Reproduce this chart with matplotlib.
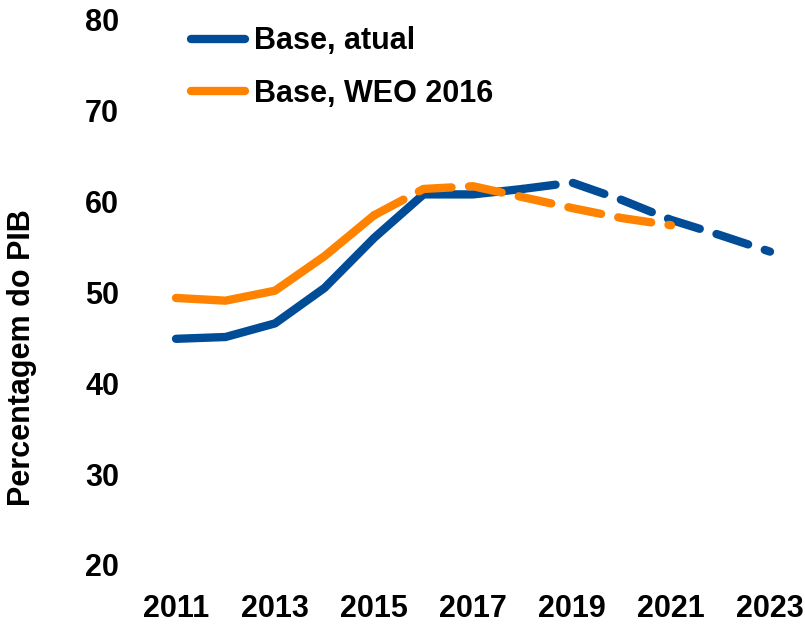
import matplotlib
matplotlib.use("Agg")
import matplotlib.pyplot as plt
from matplotlib.lines import Line2D

years = list(range(2011, 2024))
base_atual = [44.9, 45.1, 46.6, 50.5, 56.0, 60.8, 60.8, 61.4, 62.1, 60.2, 58.0, 56.3, 54.5]
weo_years = list(range(2011, 2022))
base_weo2016 = [49.4, 49.1, 50.2, 54.0, 58.5, 61.4, 61.7, 60.5, 59.3, 58.2, 57.4]
atual_solid_end = 2018
weo_solid_end = 2015
xticks = [2011, 2013, 2015, 2017, 2019, 2021, 2023]
yticks = [20, 30, 40, 50, 60, 70, 80]
legend_labels = ["Base, atual", "Base, WEO 2016"]
ylabel = "Percentagem do PIB"

BLUE = "#004C97"
ORANGE = "#FF8200"
FONT = ["Liberation Sans", "DejaVu Sans"]
plt.rcParams['font.family'] = FONT
plt.rcParams['font.weight'] = 'bold'
FS = 22

fig = plt.figure(figsize=(8.05, 6.26), dpi=100)
ax = fig.add_axes([176/805, 1-565/626, (770-176)/805, (565-20)/626])

lw = 6
dash = (4.0, 2.1)

def split(xs, ys, end):
    i = xs.index(end)
    return xs[:i+1], ys[:i+1], xs[i:], ys[i:]

for xs, ys, end, c in [(years, base_atual, atual_solid_end, BLUE),
                       (weo_years, base_weo2016, weo_solid_end, ORANGE)]:
    sx, sy, dx, dy = split(xs, ys, end)
    ax.plot(sx, sy, color=c, lw=lw, solid_capstyle='round', solid_joinstyle='round', clip_on=False)
    ax.plot(dx, dy, color=c, lw=lw, linestyle=(0, dash), dash_capstyle='round',
            dash_joinstyle='round', clip_on=False)

ax.set_xlim(2011, 2023)
ax.set_ylim(20, 80)
ax.set_xticks(xticks)
ax.set_xticklabels([str(t) for t in xticks])
ax.set_yticks(yticks)
for s in ax.spines.values():
    s.set_visible(False)
ax.tick_params(axis='both', length=0, labelsize=FS)
ax.tick_params(axis='x', pad=21)
ax.tick_params(axis='y', pad=41)
for lab in ax.get_xticklabels() + ax.get_yticklabels():
    lab.set_fontweight('bold')

fig.text(22/805, 1-358/626, ylabel, rotation=90, ha='center', va='center',
         fontsize=FS, fontweight='bold')

handles = [Line2D([0], [0], color=BLUE, lw=lw, solid_capstyle='round'),
           Line2D([0], [0], color=ORANGE, lw=lw, solid_capstyle='round')]
leg = fig.legend(handles, legend_labels, loc='upper left', bbox_to_anchor=(179/805, 1-14/626),
                 frameon=False, fontsize=FS, handlelength=1.75, handletextpad=0.3,
                 labelspacing=0.75, borderaxespad=0)
for t in leg.get_texts():
    t.set_fontweight('bold')

fig.savefig("out.png", dpi=100)
